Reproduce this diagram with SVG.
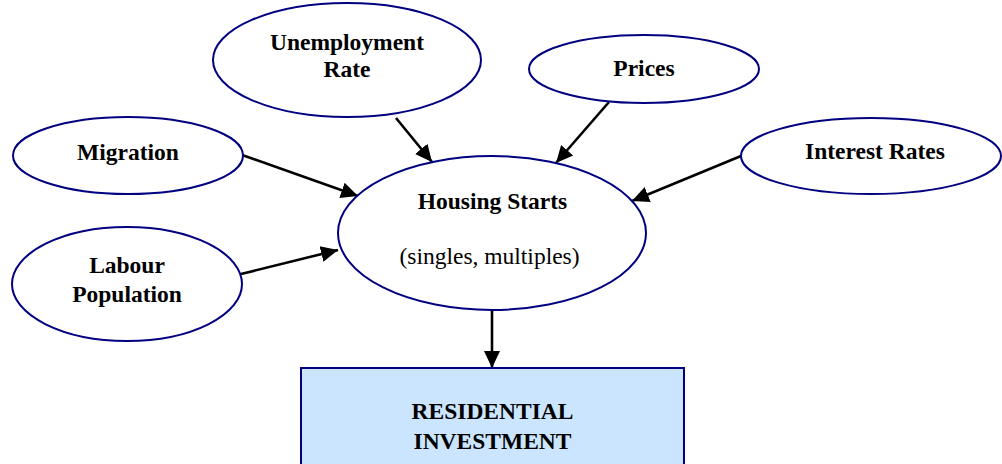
<svg xmlns="http://www.w3.org/2000/svg" width="1002" height="464" viewBox="0 0 1002 464">
<style>
.n{fill:#fff;stroke:#000080;stroke-width:2}
.b{font-family:"Liberation Serif","Times New Roman",serif;font-weight:bold;font-size:23.5px;fill:#000;text-anchor:middle}
.r{font-family:"Liberation Serif","Times New Roman",serif;font-size:23.5px;fill:#000;text-anchor:middle}
.c{stroke:#000;stroke-width:2.6;fill:none;marker-end:url(#ah)}
</style>
<defs>
<marker id="ah" markerUnits="userSpaceOnUse" markerWidth="18" markerHeight="18" viewBox="0 0 18 18" refX="17" refY="9" orient="auto">
<path d="M0,1 L17,9 L0,17 Z" fill="#000"/>
</marker>
</defs>
<rect width="1002" height="464" fill="#fff"/>
<g id="connectors">
<line class="c" x1="396" y1="118" x2="432" y2="162"/>
<line class="c" x1="609" y1="102" x2="556" y2="163"/>
<line class="c" x1="242" y1="155" x2="358" y2="196"/>
<line class="c" x1="241" y1="274" x2="338" y2="250"/>
<line class="c" x1="741" y1="156" x2="632" y2="201"/>
<line class="c" x1="492" y1="310" x2="492" y2="368"/>
</g>
<g id="unemployment">
<ellipse class="n" cx="347" cy="60" rx="134" ry="57"/>
<text class="b" x="347" y="50">Unemployment</text>
<text class="b" x="347" y="77">Rate</text>
</g>
<g id="prices">
<ellipse class="n" cx="644" cy="69" rx="115" ry="34"/>
<text class="b" x="644" y="76">Prices</text>
</g>
<g id="migration">
<ellipse class="n" cx="128" cy="155.5" rx="115" ry="38.5"/>
<text class="b" x="128" y="160">Migration</text>
</g>
<g id="interest">
<ellipse class="n" cx="871" cy="156" rx="130" ry="38"/>
<text class="b" x="875" y="159">Interest Rates</text>
</g>
<g id="labour">
<ellipse class="n" cx="127" cy="284" rx="115" ry="57"/>
<text class="b" x="127" y="273">Labour</text>
<text class="b" x="127" y="302">Population</text>
</g>
<g id="housing">
<ellipse class="n" cx="492" cy="233" rx="154" ry="77"/>
<text class="b" x="492.5" y="209">Housing Starts</text>
<text class="r" x="489.5" y="264">(singles, multiples)</text>
</g>
<g id="residential">
<rect x="301" y="368" width="383" height="100" fill="#cce5ff" stroke="#000080" stroke-width="2"/>
<text class="b" x="492.5" y="419">RESIDENTIAL</text>
<text class="b" x="492.5" y="449">INVESTMENT</text>
</g>
</svg>
